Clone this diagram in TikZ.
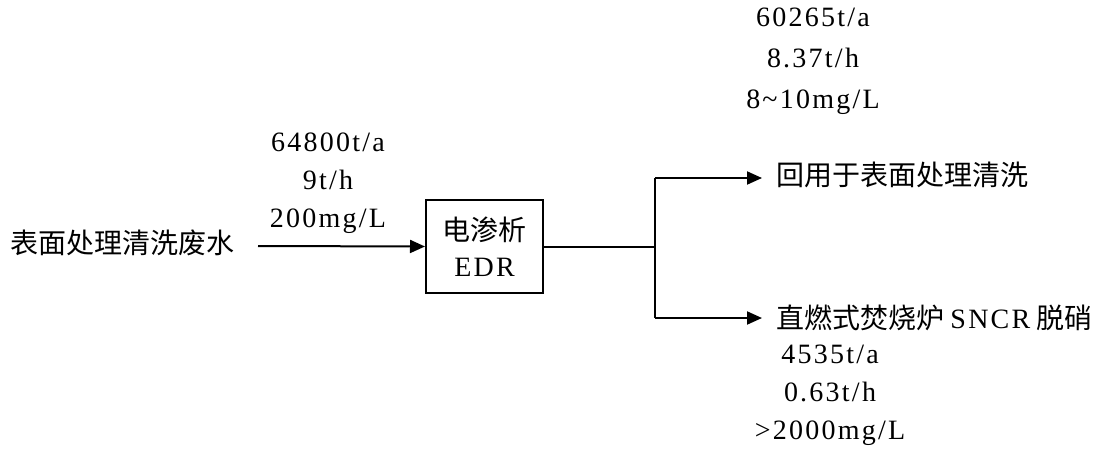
\documentclass[tikz,border=0pt]{standalone}
\usepackage{fontspec}
\newfontfamily\cjk{Noto Sans CJK SC}
\newfontfamily\num[LetterSpace=8]{Liberation Serif}
\usetikzlibrary{positioning,arrows.meta}

\begin{document}
\begin{tikzpicture}[x=1pt, y=-1pt,
  flow/.style={line width=2pt, -{Triangle[length=15pt, width=13pt]}},
  pipe/.style={line width=2pt},
  unit/.style={font=\fontsize{28}{38}\selectfont\num, align=center, inner sep=0pt},
  label/.style={font=\fontsize{28}{34}\selectfont\cjk, inner sep=0pt},
  unitbox/.style={draw, line width=2pt, minimum width=117pt, minimum height=93pt,
    align=center, font=\fontsize{28}{36}\selectfont\num}]
  \useasboundingbox (0,0) rectangle (1096,450);

  % Feed (left)
  \node[label, anchor=west] (src) at (10,243) {表面处理清洗废水};
  \coordinate (feed) at (258,246);
  \node[unitbox] (edr) at (484.5,246.5) {{\cjk 电渗析}\\EDR};
  \draw[flow] (feed) -- (edr.west);
  \node[unit] (feedq) at (328,183) {64800t/a\\9t/h\\200mg/L};

  % Split (right)
  \coordinate (split) at (655,246.5);
  \coordinate (up) at (655,178);
  \coordinate (down) at (655,318);
  \node[label, anchor=west, inner xsep=14pt] (reuse) at (762,175) {回用于表面处理清洗};
  \node[label, anchor=west, inner xsep=14pt] (burn) at (762,318) {直燃式焚烧炉 {\num SNCR} 脱硝};
  \draw[pipe] (edr.east) -- (split);
  \draw[pipe] (up) -- (down);
  \draw[flow] (up) -- (up -| reuse.west);
  \draw[flow] (down) -- (down -| burn.west);
  \node[unit] (reuseq) at (813,61) {60265t/a\\[3pt]8.37t/h\\[3pt]8\textasciitilde10mg/L};
  \node[unit] (burnq) at (830,395) {4535t/a\\0.63t/h\\>2000mg/L};
\end{tikzpicture}
\end{document}
